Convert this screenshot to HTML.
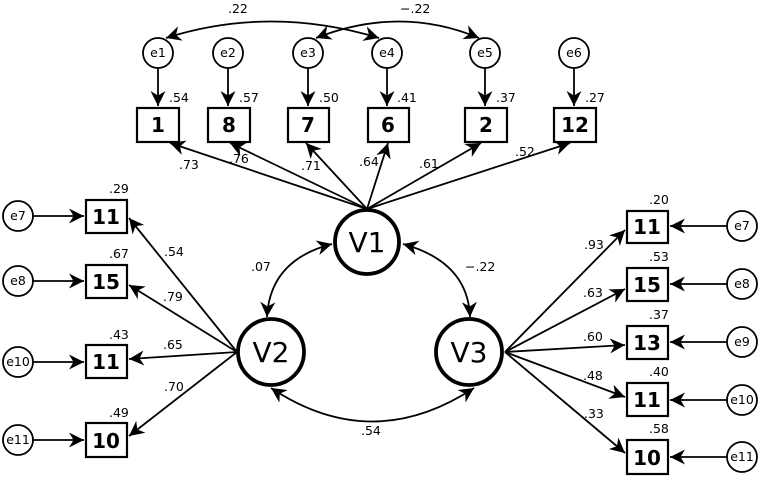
<!DOCTYPE html>
<html><head><meta charset="utf-8"><style>
body{margin:0;background:#fff}
svg text{font-family:"DejaVu Sans","Liberation Sans",sans-serif;fill:#000}
svg text.s{font-size:12.5px}
svg text.b{font-size:20px;font-weight:bold}
svg text.e{font-size:12.5px}
svg text.v{font-size:28px}
</style></head><body>
<svg width="761" height="477" viewBox="0 0 761 477" xmlns="http://www.w3.org/2000/svg">
<defs>
<marker id="a" viewBox="0 0 10 10" refX="10" refY="5" markerWidth="15" markerHeight="15" markerUnits="userSpaceOnUse" orient="auto-start-reverse">
<path d="M0,0 L10,5 L0,10 L3,5 z" fill="#000"/></marker>
</defs>
<g stroke="#000" fill="none" stroke-width="1.8">
<circle cx="158" cy="53" r="15"/><circle cx="228" cy="53" r="15"/><circle cx="308" cy="53" r="15"/>
<circle cx="387" cy="53" r="15"/><circle cx="485" cy="53" r="15"/><circle cx="574" cy="53" r="15"/>
<line x1="158" y1="68" x2="158" y2="106" marker-end="url(#a)"/>
<line x1="228" y1="68" x2="228" y2="106" marker-end="url(#a)"/>
<line x1="308" y1="68" x2="308" y2="106" marker-end="url(#a)"/>
<line x1="387" y1="68" x2="387" y2="106" marker-end="url(#a)"/>
<line x1="485" y1="68" x2="485" y2="106" marker-end="url(#a)"/>
<line x1="574" y1="68" x2="574" y2="106" marker-end="url(#a)"/>
<path d="M166,38 Q270,5 379,38" marker-start="url(#a)" marker-end="url(#a)"/>
<path d="M316,38 Q400,5 479,38" marker-start="url(#a)" marker-end="url(#a)"/>
<rect x="137" y="108" width="42" height="34" stroke-width="2.2"/>
<rect x="208" y="108" width="42" height="34" stroke-width="2.2"/>
<rect x="288" y="108" width="41" height="34" stroke-width="2.2"/>
<rect x="368" y="108" width="41" height="34" stroke-width="2.2"/>
<rect x="465" y="108" width="42" height="34" stroke-width="2.2"/>
<rect x="554" y="108" width="42" height="34" stroke-width="2.2"/>
<line x1="367" y1="209" x2="170" y2="143" marker-end="url(#a)"/>
<line x1="367" y1="209" x2="230" y2="143" marker-end="url(#a)"/>
<line x1="367" y1="209" x2="306" y2="143" marker-end="url(#a)"/>
<line x1="367" y1="209" x2="388" y2="143" marker-end="url(#a)"/>
<line x1="367" y1="209" x2="481" y2="143" marker-end="url(#a)"/>
<line x1="367" y1="209" x2="570" y2="143" marker-end="url(#a)"/>
<circle cx="367" cy="242" r="32" stroke-width="3.8"/>
<circle cx="271" cy="352" r="33" stroke-width="3.8"/>
<circle cx="469" cy="352" r="33" stroke-width="3.8"/>
<path d="M332,244 Q270,260 267,317" marker-start="url(#a)" marker-end="url(#a)"/>
<path d="M403,244 Q468,262 470,317" marker-start="url(#a)" marker-end="url(#a)"/>
<path d="M271,388 Q372,455 474,388" marker-start="url(#a)" marker-end="url(#a)"/>
<rect x="86" y="200" width="41" height="33" stroke-width="2.2"/>
<rect x="86" y="265" width="41" height="33" stroke-width="2.2"/>
<rect x="86" y="345" width="41" height="33" stroke-width="2.2"/>
<rect x="86" y="423" width="41" height="34" stroke-width="2.2"/>
<circle cx="18" cy="216" r="15"/><circle cx="18" cy="281" r="15"/>
<circle cx="18" cy="362" r="15"/><circle cx="18" cy="440" r="15"/>
<line x1="33" y1="216" x2="84" y2="216" marker-end="url(#a)"/>
<line x1="33" y1="281" x2="84" y2="281" marker-end="url(#a)"/>
<line x1="33" y1="362" x2="84" y2="362" marker-end="url(#a)"/>
<line x1="33" y1="440" x2="84" y2="440" marker-end="url(#a)"/>
<line x1="237" y1="352" x2="129" y2="218" marker-end="url(#a)"/>
<line x1="237" y1="352" x2="129" y2="285" marker-end="url(#a)"/>
<line x1="237" y1="352" x2="129" y2="359" marker-end="url(#a)"/>
<line x1="237" y1="352" x2="129" y2="436" marker-end="url(#a)"/>
<rect x="627" y="211" width="41" height="32" stroke-width="2.2"/>
<rect x="627" y="268" width="41" height="33" stroke-width="2.2"/>
<rect x="627" y="326" width="41" height="33" stroke-width="2.2"/>
<rect x="627" y="383" width="41" height="33" stroke-width="2.2"/>
<rect x="627" y="440" width="41" height="34" stroke-width="2.2"/>
<circle cx="742" cy="226" r="15"/><circle cx="742" cy="284" r="15"/>
<circle cx="742" cy="342" r="15"/><circle cx="742" cy="400" r="15"/><circle cx="742" cy="457" r="15"/>
<line x1="727" y1="226" x2="670" y2="226" marker-end="url(#a)"/>
<line x1="727" y1="284" x2="670" y2="284" marker-end="url(#a)"/>
<line x1="727" y1="342" x2="670" y2="342" marker-end="url(#a)"/>
<line x1="727" y1="400" x2="670" y2="400" marker-end="url(#a)"/>
<line x1="727" y1="457" x2="670" y2="457" marker-end="url(#a)"/>
<line x1="505" y1="352" x2="625" y2="230" marker-end="url(#a)"/>
<line x1="505" y1="352" x2="625" y2="289" marker-end="url(#a)"/>
<line x1="505" y1="352" x2="625" y2="345" marker-end="url(#a)"/>
<line x1="505" y1="352" x2="625" y2="397" marker-end="url(#a)"/>
<line x1="505" y1="352" x2="625" y2="453" marker-end="url(#a)"/>
</g>
<g text-anchor="middle">
<text class="e" x="158" y="57">e1</text><text class="e" x="228" y="57">e2</text><text class="e" x="308" y="57">e3</text>
<text class="e" x="387" y="57">e4</text><text class="e" x="485" y="57">e5</text><text class="e" x="574" y="57">e6</text>
<text class="b" x="158" y="132">1</text><text class="b" x="229" y="132">8</text><text class="b" x="308" y="132">7</text>
<text class="b" x="388" y="132">6</text><text class="b" x="486" y="132">2</text><text class="b" x="575" y="132">12</text>
<text class="v" x="367" y="252">V1</text><text class="v" x="271" y="362">V2</text><text class="v" x="469" y="362">V3</text>
<text class="b" x="106" y="224">11</text><text class="b" x="106" y="289">15</text><text class="b" x="106" y="369">11</text><text class="b" x="106" y="448">10</text>
<text class="e" x="18" y="220">e7</text><text class="e" x="18" y="285">e8</text><text class="e" x="18" y="366">e10</text><text class="e" x="18" y="444">e11</text>
<text class="b" x="647" y="234">11</text><text class="b" x="647" y="292">15</text><text class="b" x="647" y="350">13</text><text class="b" x="647" y="407">11</text><text class="b" x="647" y="465">10</text>
<text class="e" x="742" y="230">e7</text><text class="e" x="742" y="288">e8</text><text class="e" x="742" y="346">e9</text><text class="e" x="742" y="404">e10</text><text class="e" x="742" y="461">e11</text>
</g>
<g>
<text class="s" x="228" y="13">.22</text><text class="s" x="400" y="13">−.22</text>
<text class="s" x="169" y="102">.54</text><text class="s" x="239" y="102">.57</text><text class="s" x="319" y="102">.50</text>
<text class="s" x="397" y="102">.41</text><text class="s" x="496" y="102">.37</text><text class="s" x="585" y="102">.27</text>
<text class="s" x="179" y="169">.73</text><text class="s" x="229" y="163">.76</text><text class="s" x="301" y="170">.71</text>
<text class="s" x="359" y="166">.64</text><text class="s" x="419" y="168">.61</text><text class="s" x="515" y="156">.52</text>
<text class="s" x="109" y="193">.29</text><text class="s" x="109" y="258">.67</text><text class="s" x="109" y="339">.43</text><text class="s" x="109" y="417">.49</text>
<text class="s" x="164" y="256">.54</text><text class="s" x="163" y="301">.79</text><text class="s" x="163" y="349">.65</text><text class="s" x="164" y="391">.70</text>
<text class="s" x="251" y="271">.07</text><text class="s" x="465" y="271">−.22</text><text class="s" x="361" y="435">.54</text>
<text class="s" x="649" y="204">.20</text><text class="s" x="649" y="261">.53</text><text class="s" x="649" y="319">.37</text><text class="s" x="649" y="376">.40</text><text class="s" x="649" y="433">.58</text>
<text class="s" x="584" y="249">.93</text><text class="s" x="583" y="297">.63</text><text class="s" x="583" y="341">.60</text><text class="s" x="583" y="380">.48</text><text class="s" x="584" y="418">.33</text>
</g>
</svg>
</body></html>
